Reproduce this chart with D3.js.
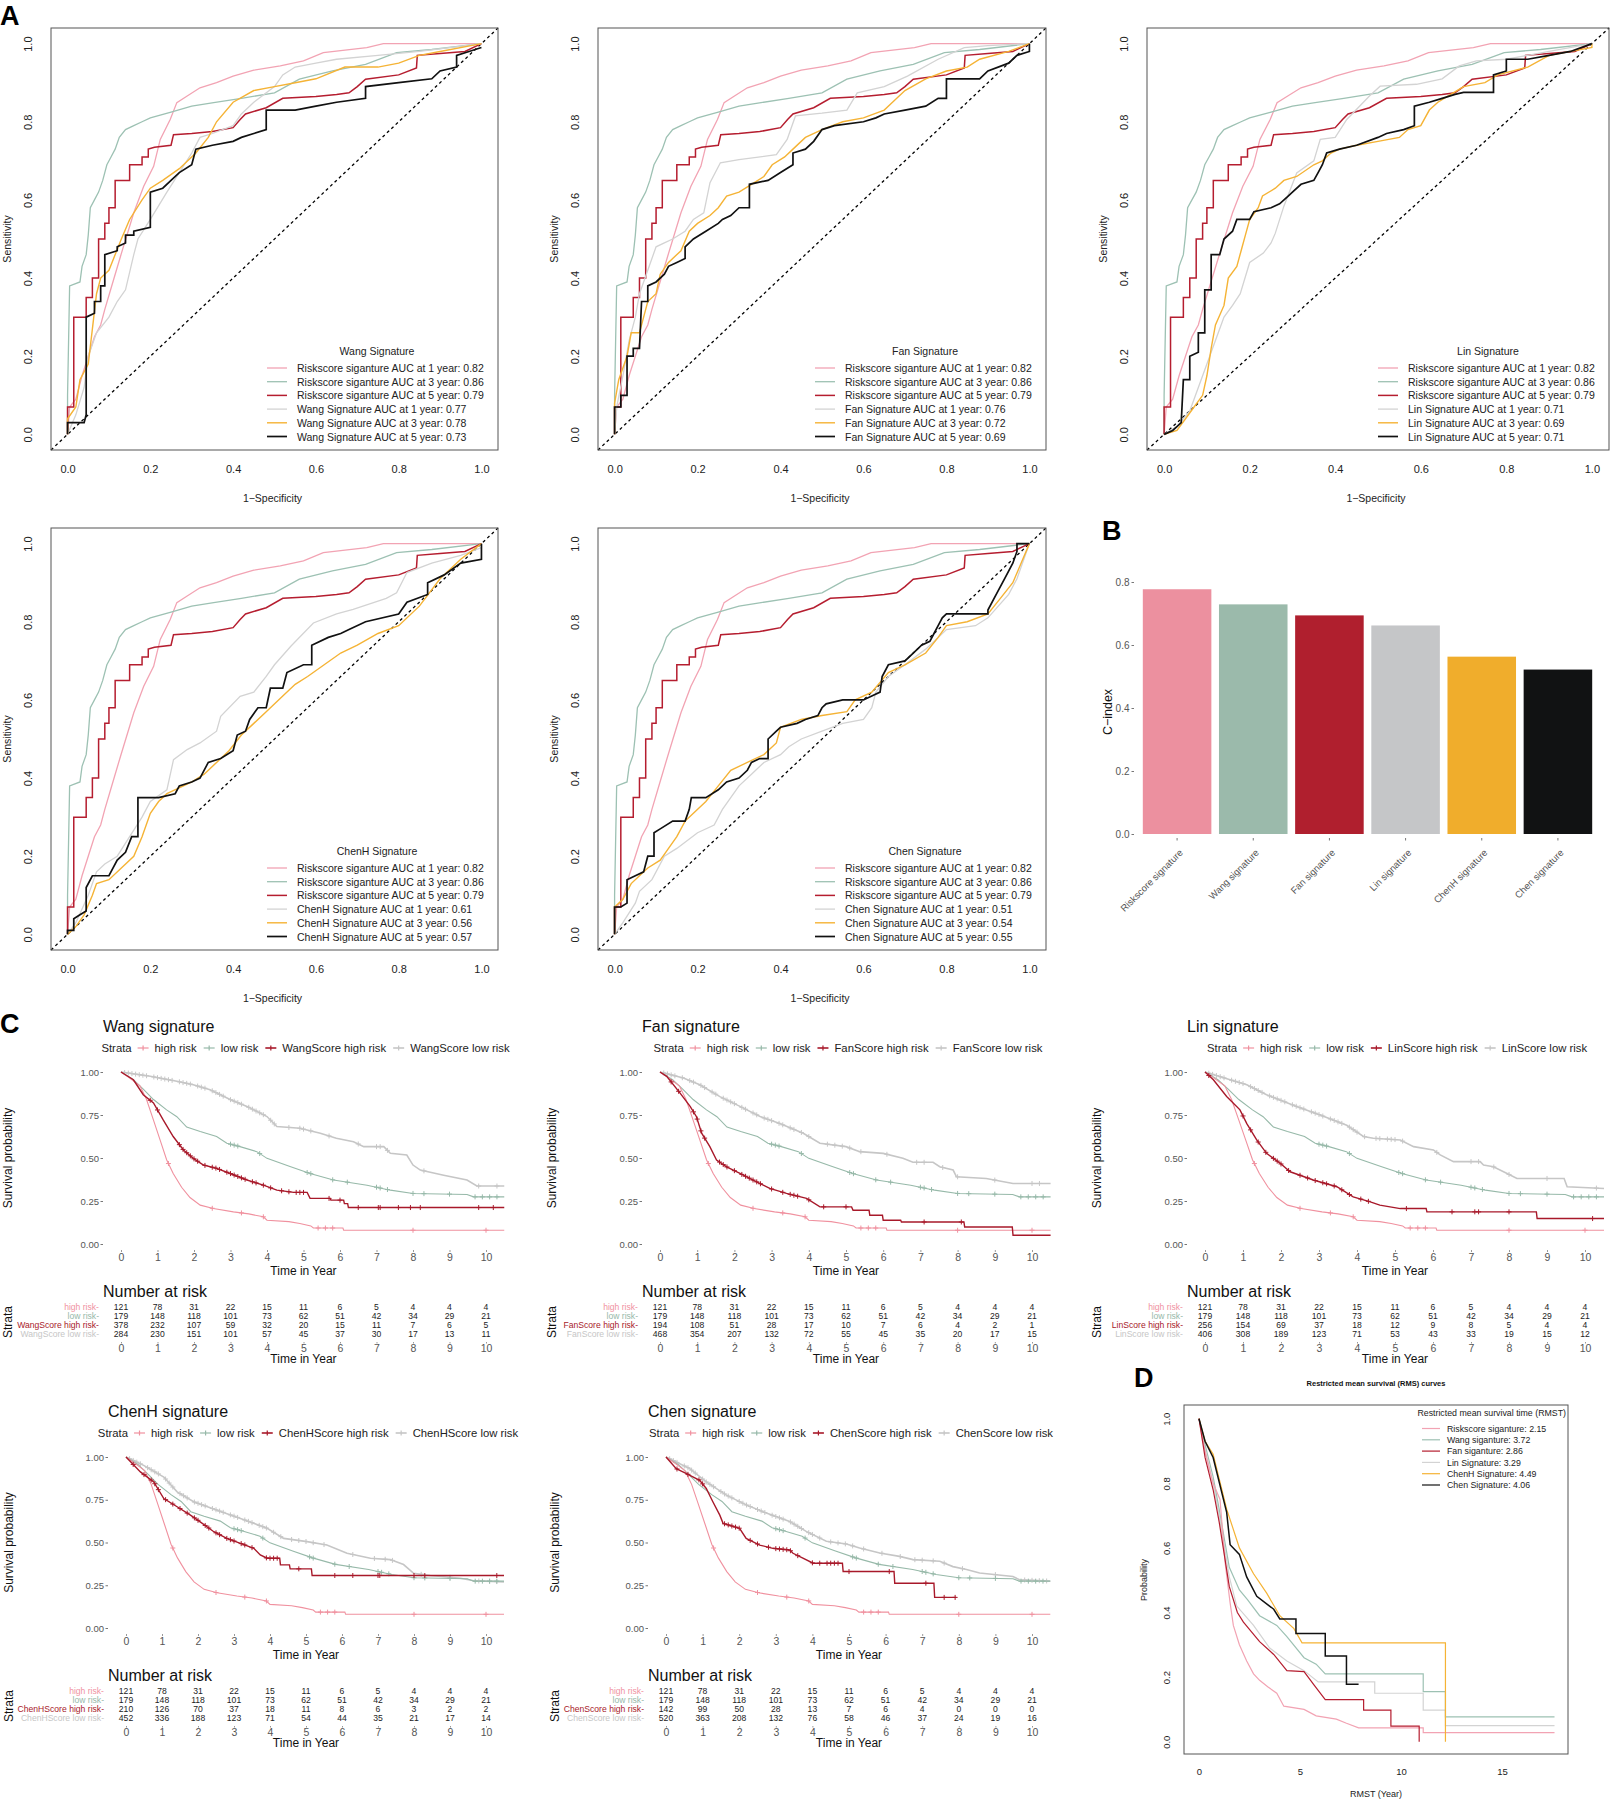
<!DOCTYPE html>
<html>
<head>
<meta charset="utf-8">
<script src="https://cdn.jsdelivr.net/npm/d3@7"></script>
<style>
  body { margin: 0; background: #fff; }
  svg { display: block; }
</style>
</head>
<body>
<script>
// ---------- A: ROC data (1-specificity, sensitivity) ----------
const rocTicks = [0, 0.2, 0.4, 0.6, 0.8, 1.0];
const rocYears = [1, 3, 5];
const riskAUC = [0.82, 0.86, 0.79];
const wangAUC = [0.77, 0.78, 0.73];
const fanAUC = [0.76, 0.72, 0.69];
const linAUC = [0.71, 0.69, 0.71];
const chenHAUC = [0.61, 0.56, 0.57];
const chenAUC = [0.51, 0.54, 0.55];

const riskRoc1 = [[0,0],[0.005,0.07],[0.02,0.09],[0.035,0.15],[0.05,0.2],[0.065,0.25],[0.08,0.28],[0.09,0.32],[0.104,0.37],[0.128,0.456],[0.16,0.567],[0.184,0.635],[0.208,0.686],[0.224,0.755],[0.248,0.806],[0.264,0.849],[0.289,0.866],[0.32,0.887],[0.36,0.9],[0.4,0.917],[0.45,0.932],[0.514,0.943],[0.57,0.956],[0.618,0.977],[0.723,0.99],[0.763,1],[1,1]];
const riskRoc3 = [[0,0],[0,0.1],[0.005,0.38],[0.03,0.39],[0.035,0.43],[0.045,0.46],[0.05,0.51],[0.055,0.58],[0.065,0.6],[0.075,0.62],[0.085,0.65],[0.095,0.69],[0.105,0.71],[0.115,0.73],[0.125,0.76],[0.14,0.78],[0.16,0.79],[0.18,0.8],[0.2,0.81],[0.25,0.825],[0.3,0.84],[0.353,0.849],[0.42,0.86],[0.5,0.874],[0.56,0.909],[0.64,0.93],[0.72,0.947],[0.795,0.977],[0.88,0.985],[1,1]];
const riskRoc5 = [[0,0],[0,0.07],[0.015,0.07],[0.015,0.3],[0.045,0.3],[0.045,0.35],[0.06,0.35],[0.06,0.4],[0.075,0.4],[0.075,0.5],[0.09,0.5],[0.09,0.54],[0.1,0.54],[0.1,0.58],[0.115,0.58],[0.115,0.65],[0.15,0.65],[0.15,0.69],[0.18,0.69],[0.18,0.71],[0.195,0.71],[0.195,0.73],[0.21,0.735],[0.25,0.74],[0.256,0.767],[0.3,0.77],[0.35,0.775],[0.4,0.785],[0.417,0.806],[0.43,0.82],[0.48,0.836],[0.52,0.86],[0.6,0.865],[0.65,0.87],[0.68,0.874],[0.7,0.89],[0.72,0.909],[0.8,0.92],[0.843,0.938],[0.845,0.97],[0.9,0.975],[0.96,0.98],[1,1]];

const wangRoc1 = [[0,0],[0.02,0.05],[0.04,0.12],[0.05,0.2],[0.07,0.26],[0.1,0.3],[0.12,0.34],[0.14,0.37],[0.16,0.46],[0.17,0.5],[0.2,0.55],[0.24,0.62],[0.27,0.67],[0.3,0.72],[0.32,0.76],[0.35,0.77],[0.4,0.79],[0.42,0.82],[0.45,0.85],[0.5,0.89],[0.52,0.92],[0.55,0.94],[0.6,0.95],[0.65,0.96],[0.75,0.97],[0.85,0.98],[1,1]];
const wangRoc3 = [[0,0],[0,0.04],[0.02,0.07],[0.03,0.14],[0.05,0.18],[0.06,0.27],[0.07,0.36],[0.08,0.4],[0.1,0.42],[0.13,0.5],[0.15,0.55],[0.18,0.6],[0.2,0.63],[0.23,0.65],[0.27,0.68],[0.31,0.72],[0.34,0.76],[0.36,0.8],[0.4,0.85],[0.45,0.88],[0.5,0.89],[0.55,0.9],[0.6,0.91],[0.67,0.94],[0.75,0.94],[0.8,0.95],[0.85,0.97],[0.9,0.98],[1,1]];
const wangRoc5 = [[0,0],[0,0.03],[0.04,0.03],[0.045,0.05],[0.045,0.3],[0.065,0.31],[0.065,0.34],[0.08,0.34],[0.08,0.38],[0.09,0.38],[0.09,0.46],[0.12,0.47],[0.12,0.48],[0.14,0.49],[0.14,0.51],[0.16,0.51],[0.16,0.52],[0.2,0.53],[0.2,0.62],[0.23,0.63],[0.25,0.65],[0.27,0.67],[0.3,0.69],[0.31,0.73],[0.35,0.74],[0.4,0.75],[0.42,0.76],[0.45,0.77],[0.48,0.78],[0.48,0.83],[0.55,0.83],[0.6,0.84],[0.65,0.85],[0.72,0.86],[0.72,0.89],[0.8,0.9],[0.88,0.91],[0.9,0.93],[0.94,0.94],[0.94,0.97],[0.97,0.98],[1,0.99]];

const fanRoc1 = [[0,0],[0.005,0.07],[0.02,0.15],[0.035,0.24],[0.05,0.3],[0.06,0.36],[0.07,0.39],[0.09,0.45],[0.1,0.48],[0.12,0.49],[0.14,0.5],[0.17,0.52],[0.19,0.55],[0.215,0.567],[0.23,0.644],[0.255,0.695],[0.3,0.703],[0.39,0.716],[0.416,0.755],[0.436,0.815],[0.5,0.822],[0.56,0.83],[0.585,0.874],[0.65,0.89],[0.706,0.917],[0.78,0.96],[0.843,0.99],[0.9,0.995],[1,1]];
const fanRoc3 = [[0,0],[0,0.08],[0.01,0.14],[0.03,0.2],[0.04,0.26],[0.06,0.26],[0.07,0.3],[0.08,0.34],[0.1,0.36],[0.11,0.41],[0.13,0.44],[0.16,0.47],[0.18,0.52],[0.2,0.54],[0.23,0.56],[0.25,0.58],[0.27,0.61],[0.3,0.62],[0.33,0.64],[0.36,0.66],[0.38,0.69],[0.41,0.71],[0.43,0.73],[0.46,0.76],[0.5,0.78],[0.55,0.8],[0.6,0.81],[0.65,0.83],[0.67,0.85],[0.7,0.88],[0.75,0.91],[0.8,0.93],[0.85,0.94],[0.88,0.96],[0.95,0.98],[1,1]];
const fanRoc5 = [[0,0],[0,0.07],[0.015,0.07],[0.015,0.1],[0.03,0.1],[0.03,0.2],[0.045,0.2],[0.045,0.22],[0.06,0.22],[0.065,0.34],[0.08,0.34],[0.08,0.38],[0.1,0.39],[0.12,0.41],[0.13,0.43],[0.15,0.44],[0.17,0.45],[0.17,0.48],[0.19,0.5],[0.22,0.52],[0.25,0.54],[0.26,0.55],[0.28,0.56],[0.3,0.58],[0.325,0.58],[0.325,0.64],[0.37,0.65],[0.4,0.67],[0.43,0.69],[0.43,0.72],[0.46,0.73],[0.48,0.75],[0.5,0.78],[0.53,0.79],[0.6,0.8],[0.63,0.81],[0.65,0.82],[0.7,0.83],[0.75,0.84],[0.78,0.86],[0.8,0.86],[0.8,0.91],[0.88,0.91],[0.9,0.93],[0.95,0.95],[0.97,0.97],[1,0.98],[1,1]];

const linRoc1 = [[0,0],[0.03,0.02],[0.06,0.06],[0.08,0.12],[0.1,0.18],[0.12,0.24],[0.14,0.3],[0.16,0.33],[0.178,0.36],[0.2,0.44],[0.232,0.464],[0.25,0.49],[0.26,0.515],[0.28,0.584],[0.31,0.669],[0.35,0.7],[0.365,0.755],[0.4,0.76],[0.427,0.806],[0.48,0.866],[0.505,0.891],[0.59,0.896],[0.65,0.91],[0.69,0.943],[0.73,0.956],[0.8,0.96],[0.85,0.97],[0.9,0.98],[1,1]];
const linRoc3 = [[0,0],[0.03,0.01],[0.05,0.04],[0.07,0.07],[0.09,0.1],[0.1,0.15],[0.11,0.22],[0.12,0.28],[0.14,0.33],[0.15,0.4],[0.17,0.43],[0.18,0.47],[0.19,0.51],[0.2,0.55],[0.22,0.58],[0.23,0.61],[0.26,0.63],[0.28,0.65],[0.31,0.66],[0.35,0.69],[0.37,0.7],[0.39,0.72],[0.41,0.73],[0.45,0.74],[0.5,0.75],[0.55,0.76],[0.57,0.78],[0.6,0.79],[0.62,0.83],[0.64,0.85],[0.67,0.87],[0.7,0.89],[0.75,0.9],[0.78,0.92],[0.85,0.94],[0.9,0.97],[1,0.99],[1,1]];
const linRoc5 = [[0,0],[0.02,0.01],[0.03,0.02],[0.04,0.03],[0.045,0.14],[0.06,0.14],[0.06,0.2],[0.08,0.21],[0.08,0.26],[0.095,0.26],[0.095,0.37],[0.11,0.37],[0.11,0.46],[0.13,0.46],[0.14,0.5],[0.16,0.52],[0.17,0.55],[0.2,0.55],[0.21,0.57],[0.25,0.58],[0.27,0.59],[0.29,0.61],[0.3,0.62],[0.32,0.64],[0.35,0.65],[0.36,0.67],[0.37,0.69],[0.38,0.72],[0.41,0.73],[0.45,0.74],[0.5,0.76],[0.52,0.77],[0.56,0.78],[0.585,0.79],[0.585,0.84],[0.62,0.85],[0.65,0.86],[0.68,0.87],[0.7,0.875],[0.77,0.875],[0.77,0.92],[0.8,0.93],[0.8,0.96],[0.85,0.96],[0.9,0.97],[0.95,0.98],[1,1]];

const chenHRoc1 = [[0,0],[0.02,0.03],[0.05,0.1],[0.07,0.16],[0.09,0.18],[0.12,0.2],[0.15,0.25],[0.18,0.3],[0.2,0.34],[0.24,0.37],[0.256,0.447],[0.289,0.473],[0.32,0.49],[0.36,0.52],[0.37,0.558],[0.417,0.609],[0.45,0.62],[0.48,0.66],[0.5,0.69],[0.54,0.738],[0.594,0.797],[0.65,0.82],[0.69,0.832],[0.77,0.86],[0.795,0.874],[0.82,0.926],[0.88,0.95],[0.95,0.97],[1,0.99]];
const chenHRoc3 = [[0,0],[0.02,0.02],[0.04,0.05],[0.06,0.1],[0.07,0.13],[0.1,0.14],[0.13,0.17],[0.16,0.2],[0.18,0.25],[0.2,0.31],[0.22,0.34],[0.24,0.36],[0.28,0.38],[0.3,0.39],[0.33,0.41],[0.36,0.44],[0.39,0.47],[0.42,0.51],[0.45,0.54],[0.48,0.57],[0.52,0.61],[0.55,0.64],[0.58,0.66],[0.62,0.69],[0.66,0.72],[0.7,0.74],[0.75,0.77],[0.8,0.79],[0.85,0.84],[0.9,0.91],[0.95,0.96],[1,1]];
const chenHRoc5 = [[0,0],[0,0.01],[0.015,0.01],[0.015,0.04],[0.03,0.05],[0.045,0.06],[0.045,0.12],[0.06,0.15],[0.1,0.15],[0.11,0.17],[0.12,0.19],[0.14,0.21],[0.155,0.25],[0.17,0.25],[0.17,0.35],[0.2,0.35],[0.22,0.35],[0.26,0.36],[0.27,0.38],[0.3,0.39],[0.32,0.4],[0.34,0.44],[0.37,0.45],[0.4,0.47],[0.41,0.51],[0.43,0.52],[0.44,0.55],[0.46,0.58],[0.48,0.58],[0.49,0.63],[0.52,0.63],[0.53,0.67],[0.57,0.69],[0.59,0.69],[0.59,0.74],[0.63,0.76],[0.66,0.77],[0.68,0.78],[0.72,0.8],[0.8,0.82],[0.82,0.85],[0.87,0.87],[0.87,0.9],[0.91,0.92],[0.95,0.95],[1,0.96],[1,1]];

const chenRoc1 = [[0,0],[0.02,0.03],[0.05,0.08],[0.06,0.11],[0.09,0.14],[0.12,0.2],[0.15,0.22],[0.2,0.26],[0.24,0.28],[0.26,0.32],[0.28,0.35],[0.3,0.38],[0.33,0.41],[0.36,0.44],[0.4,0.46],[0.42,0.48],[0.45,0.5],[0.5,0.52],[0.55,0.54],[0.6,0.55],[0.62,0.58],[0.63,0.62],[0.66,0.66],[0.7,0.69],[0.75,0.73],[0.78,0.76],[0.8,0.78],[0.87,0.79],[0.9,0.81],[0.95,0.87],[0.97,0.91],[1,1]];
const chenRoc3 = [[0,0],[0,0.07],[0.02,0.09],[0.04,0.13],[0.06,0.15],[0.08,0.17],[0.11,0.19],[0.13,0.22],[0.15,0.25],[0.17,0.29],[0.19,0.31],[0.22,0.34],[0.25,0.38],[0.28,0.42],[0.32,0.44],[0.36,0.46],[0.39,0.49],[0.4,0.53],[0.45,0.55],[0.5,0.56],[0.56,0.57],[0.58,0.6],[0.62,0.62],[0.66,0.67],[0.7,0.69],[0.75,0.72],[0.78,0.76],[0.8,0.79],[0.85,0.8],[0.9,0.82],[0.93,0.86],[0.96,0.9],[1,1]];
const chenRoc5 = [[0,0],[0,0.07],[0.015,0.07],[0.03,0.08],[0.03,0.14],[0.05,0.15],[0.07,0.16],[0.08,0.2],[0.095,0.2],[0.095,0.26],[0.11,0.27],[0.14,0.29],[0.17,0.29],[0.18,0.32],[0.185,0.35],[0.22,0.35],[0.25,0.37],[0.27,0.39],[0.3,0.4],[0.32,0.42],[0.33,0.44],[0.35,0.45],[0.37,0.45],[0.37,0.5],[0.39,0.52],[0.4,0.53],[0.44,0.54],[0.46,0.55],[0.49,0.56],[0.5,0.58],[0.51,0.59],[0.55,0.6],[0.6,0.6],[0.62,0.61],[0.64,0.62],[0.645,0.66],[0.66,0.69],[0.7,0.7],[0.72,0.72],[0.74,0.74],[0.76,0.75],[0.77,0.77],[0.78,0.79],[0.79,0.81],[0.8,0.82],[0.9,0.82],[0.9,0.83],[0.92,0.87],[0.94,0.91],[0.96,0.95],[0.97,0.98],[0.97,1],[1,1]];

// ---------- B: C-index ----------
const cindexLabels = ["Riskscore signature", "Wang signature", "Fan signature", "Lin signature", "ChenH signature", "Chen signature"];
const cindexValues = [0.777, 0.729, 0.694, 0.662, 0.563, 0.522];

// ---------- C: Kaplan-Meier (year, survival) ----------
const kmTimes = [0, 1, 2, 3, 4, 5, 6, 7, 8, 9, 10];
const kmHighRisk = [[0,1],[0.2,0.97],[0.52,0.92],[0.7,0.84],[0.89,0.72],[1.07,0.605],[1.25,0.49],[1.43,0.41],[1.66,0.33],[1.89,0.27],[2.17,0.226],[2.53,0.206],[3.08,0.187],[3.5,0.175],[3.9,0.158],[4.0,0.138],[4.6,0.13],[4.9,0.119],[5.2,0.105],[5.27,0.093],[6.08,0.093],[6.1,0.08],[10.5,0.08]];
const kmHighRiskCens = [1.3,2.5,3.3,3.9,5.4,5.6,5.8,8.0,10.0];
const kmLowRisk = [[0,1],[0.34,0.955],[0.61,0.9],[0.89,0.84],[1.25,0.78],[1.53,0.74],[1.8,0.68],[2.17,0.654],[2.62,0.625],[2.9,0.586],[3.26,0.566],[3.72,0.537],[4.0,0.498],[4.63,0.45],[5.18,0.41],[5.82,0.372],[6.74,0.342],[7.38,0.313],[8.0,0.294],[9.48,0.288],[9.66,0.274],[10.5,0.274]];
const kmLowRiskCens = [3.0,3.1,3.2,3.8,5.1,5.2,5.8,6.2,7.0,7.1,7.3,8.0,8.3,9.0,9.7,9.9,10.1,10.3];

const wangHigh = [[0,1],[0.34,0.955],[0.61,0.868],[0.89,0.82],[1.16,0.72],[1.43,0.625],[1.71,0.547],[1.98,0.498],[2.26,0.459],[2.62,0.44],[2.99,0.41],[3.45,0.372],[3.9,0.342],[4.27,0.313],[4.73,0.3],[5.1,0.3],[5.18,0.265],[5.73,0.265],[5.75,0.255],[6.1,0.255],[6.12,0.235],[6.21,0.235],[6.23,0.212],[10.5,0.212]];
const wangHighCens = [0.8,1.0,1.6,1.7,1.8,1.9,2.0,2.1,2.3,2.5,2.6,2.7,2.9,3.0,3.1,3.2,3.3,3.4,3.6,3.7,3.9,4.1,4.4,4.6,4.8,4.9,5.0,5.7,6.0,6.5,7.05,7.1,7.6,7.93,8.2,9.8,10.2];
const wangLow = [[0,1],[0.8,0.975],[1.53,0.946],[1.98,0.926],[2.44,0.897],[2.99,0.84],[3.45,0.8],[4.0,0.741],[4.27,0.683],[4.9,0.673],[5.46,0.644],[5.9,0.615],[6.37,0.595],[6.65,0.566],[7.2,0.566],[7.38,0.527],[7.83,0.517],[8.0,0.459],[8.2,0.43],[8.84,0.4],[9.48,0.372],[9.75,0.337],[10.5,0.337]];
const wangLowCens = [0.1,0.2,0.3,0.4,0.5,0.6,0.7,0.9,1.0,1.1,1.2,1.3,1.4,1.6,1.7,1.8,1.9,2.1,2.2,2.3,2.5,2.6,2.7,2.8,3.0,3.1,3.2,3.3,3.5,3.6,3.7,3.8,3.9,4.1,4.2,4.6,4.9,5.0,5.2,5.7,6.5,7.0,7.1,7.3,8.3,9.8,10.3];

const fanHigh = [[0,1],[0.18,0.975],[0.54,0.877],[0.81,0.8],[0.98,0.74],[1.12,0.644],[1.34,0.566],[1.52,0.488],[1.79,0.449],[2.15,0.41],[2.5,0.372],[2.95,0.323],[3.4,0.294],[3.94,0.265],[4.3,0.216],[5.15,0.216],[5.19,0.196],[5.62,0.196],[5.64,0.167],[5.98,0.167],[6.0,0.138],[6.47,0.138],[6.49,0.128],[8.17,0.128],[8.19,0.099],[9.47,0.099],[9.49,0.051],[10.5,0.051]];
const fanHighCens = [0.3,0.5,0.9,1.0,1.1,1.2,1.6,1.7,1.8,2.0,2.2,2.3,2.4,2.5,2.6,2.7,3.0,3.3,3.5,3.6,3.7,4.0,4.4,5.0,7.1,8.1];
const fanLow = [[0,1],[0.63,0.965],[1.07,0.926],[1.61,0.857],[2.15,0.8],[2.69,0.741],[3.22,0.7],[3.85,0.644],[4.3,0.586],[5.0,0.566],[5.37,0.537],[6.0,0.527],[6.53,0.498],[6.8,0.475],[7.34,0.475],[7.52,0.449],[7.88,0.43],[7.97,0.391],[8.77,0.381],[9.49,0.352],[10.5,0.352]];
const fanLowCens = [0.1,0.2,0.3,0.4,0.6,0.8,0.9,1.1,1.2,1.4,1.5,1.7,1.8,1.9,2.0,2.2,2.3,2.5,2.6,2.8,2.9,3.0,3.2,3.3,3.5,3.6,3.8,4.0,4.5,4.7,4.9,5.1,5.4,6.1,6.9,7.1,7.6,8.0,9.0,10.0,10.2];

const linHigh = [[0,1],[0.22,0.955],[0.57,0.858],[0.92,0.78],[1.1,0.7],[1.36,0.605],[1.62,0.527],[1.98,0.469],[2.24,0.42],[2.85,0.372],[3.47,0.333],[3.9,0.274],[4.35,0.245],[4.6,0.226],[5.14,0.206],[5.82,0.206],[5.84,0.187],[8.72,0.187],[8.74,0.148],[10.5,0.148]];
const linHighCens = [0.1,1.0,1.2,1.4,1.6,1.8,1.9,2.0,2.2,2.5,2.7,2.9,3.1,3.2,3.4,3.6,3.8,4.1,4.3,5.3,6.5,7.1,7.2,8.0,10.2];
const linLow = [[0,1],[0.66,0.955],[1.1,0.926],[1.62,0.868],[2.41,0.8],[3.03,0.75],[3.73,0.69],[4.17,0.625],[4.43,0.615],[5.14,0.605],[5.49,0.566],[6.01,0.547],[6.19,0.518],[6.54,0.479],[7.24,0.479],[7.33,0.459],[7.59,0.449],[7.95,0.41],[8.21,0.381],[9.45,0.381],[9.53,0.333],[10.5,0.323]];
const linLowCens = [0.1,0.2,0.3,0.4,0.5,0.7,0.8,0.9,1.0,1.2,1.3,1.4,1.5,1.7,1.8,1.9,2.0,2.1,2.3,2.4,2.5,2.6,2.8,2.9,3.0,3.1,3.3,3.4,3.5,3.6,3.8,3.9,4.0,4.2,4.5,4.6,4.8,4.9,5.0,5.2,6.1,7.0,7.2,7.6,8.0,9.0,10.3];

const chenHHigh = [[0,1],[0.4,0.913],[0.77,0.854],[1.05,0.757],[1.42,0.709],[1.79,0.66],[2.06,0.621],[2.44,0.563],[2.8,0.524],[3.18,0.495],[3.55,0.466],[3.73,0.427],[3.92,0.408],[4.27,0.408],[4.29,0.369],[4.54,0.369],[4.56,0.346],[5.15,0.346],[5.17,0.307],[10.5,0.307]];
const chenHHighCens = [0.2,0.5,0.7,0.8,0.9,1.1,1.3,1.5,1.7,1.9,2.0,2.2,2.3,2.5,2.6,2.8,2.9,3.0,3.2,3.3,3.5,3.9,4.0,4.1,4.2,4.8,5.8,6.3,7.0,7.05,8.0,8.3,10.3];
const chenHLow = [[0,1],[0.49,0.951],[1.05,0.883],[1.42,0.796],[1.88,0.738],[2.53,0.689],[3.18,0.641],[3.92,0.583],[4.38,0.524],[5.03,0.505],[5.58,0.485],[6.14,0.437],[6.79,0.408],[7.34,0.4],[7.71,0.371],[7.99,0.32],[8.45,0.307],[9.29,0.291],[9.66,0.276],[10.5,0.27]];
const chenHLowCens = [0.1,0.2,0.3,0.4,0.6,0.7,0.8,0.9,1.1,1.2,1.3,1.5,1.6,1.7,1.9,2.0,2.1,2.2,2.4,2.5,2.6,2.7,2.9,3.0,3.1,3.3,3.4,3.5,3.7,3.8,3.9,4.1,4.3,4.6,4.8,5.0,5.2,5.5,6.3,6.9,7.2,7.4,8.2,9.0,9.8,10.1,10.3];

const chenHigh = [[0,1],[0.28,0.932],[0.56,0.903],[0.92,0.864],[1.1,0.816],[1.28,0.738],[1.47,0.66],[1.56,0.612],[2.01,0.583],[2.19,0.524],[2.56,0.485],[2.92,0.466],[3.38,0.456],[3.47,0.437],[3.74,0.408],[4.02,0.379],[4.82,0.379],[4.84,0.33],[6.23,0.33],[6.25,0.262],[7.32,0.262],[7.34,0.179],[7.93,0.179]];
const chenHighCens = [0.3,0.6,0.9,1.0,1.6,1.7,1.8,1.9,2.0,2.3,2.5,2.8,3.0,3.1,3.2,3.3,3.4,3.6,4.0,4.2,4.4,4.5,4.6,4.7,5.0,6.1,7.1,7.6,7.9];
const chenLow = [[0,1],[0.65,0.932],[1.1,0.854],[1.65,0.777],[2.19,0.72],[2.74,0.672],[3.38,0.623],[3.83,0.565],[4.38,0.507],[4.93,0.491],[5.29,0.468],[5.84,0.439],[6.38,0.419],[6.75,0.4],[7.48,0.39],[7.84,0.359],[8.21,0.342],[8.57,0.322],[9.48,0.301],[9.66,0.282],[10.5,0.274]];
const chenLowCens = [0.1,0.2,0.3,0.5,0.6,0.7,0.8,1.0,1.1,1.2,1.3,1.5,1.6,1.7,1.8,2.0,2.1,2.2,2.3,2.5,2.6,2.7,2.9,3.0,3.1,3.2,3.4,3.5,3.6,3.7,3.9,4.0,4.2,4.5,4.7,4.9,5.1,5.4,5.9,6.4,6.8,7.0,7.3,7.6,8.1,9.0,9.8,10.0,10.2,10.4];

// numbers at risk
const riskHighN = [121,78,31,22,15,11,6,5,4,4,4];
const riskLowN = [179,148,118,101,73,62,51,42,34,29,21];
const wangHighN = [378,232,107,59,32,20,15,11,7,6,5];
const wangLowN = [284,230,151,101,57,45,37,30,17,13,11];
const fanHighN = [194,108,51,28,17,10,7,6,4,2,1];
const fanLowN = [468,354,207,132,72,55,45,35,20,17,15];
const linHighN = [256,154,69,37,18,12,9,8,5,4,4];
const linLowN = [406,308,189,123,71,53,43,33,19,15,12];
const chenHHighN = [210,126,70,37,18,11,8,6,3,2,2];
const chenHLowN = [452,336,188,123,71,54,44,35,21,17,14];
const chenHighN = [142,99,50,28,13,7,6,4,0,0,0];
const chenLowN = [520,363,208,132,76,58,46,37,24,19,16];

// ---------- D: RMST curves ----------
const rmstLabels = ["Riskscore siganture", "Wang siganture", "Fan siganture", "Lin Signature", "ChenH Signature", "Chen Signature"];
const rmstValues = [2.15, 3.72, 2.86, 3.29, 4.49, 4.06];
const rmstRisk = [[0,1],[0.3,0.9],[0.7,0.8],[1.04,0.75],[1.3,0.55],[1.54,0.43],[1.7,0.36],[2.0,0.3],[2.36,0.25],[2.7,0.21],[3.0,0.19],[3.4,0.17],[3.85,0.15],[4.2,0.11],[5.2,0.1],[5.8,0.08],[6.8,0.07],[7.3,0.057],[7.9,0.043],[11.1,0.043],[11.1,0.028],[17.6,0.028]];
const rmstWang = [[0,1],[0.3,0.92],[0.7,0.82],[1.0,0.72],[1.5,0.54],[2.0,0.47],[2.4,0.44],[3.0,0.39],[3.85,0.36],[4.35,0.325],[5.2,0.26],[5.8,0.24],[6.25,0.21],[11.1,0.21],[11.1,0.155],[12.2,0.155],[12.2,0.077],[17.6,0.077]];
const rmstFan = [[0,1],[0.3,0.88],[0.7,0.78],[1.0,0.68],[1.5,0.48],[1.9,0.4],[2.2,0.37],[3.0,0.31],[3.7,0.27],[4.35,0.22],[5.2,0.217],[5.7,0.175],[6.25,0.13],[8.15,0.13],[8.15,0.098],[9.5,0.098],[9.5,0.048],[10.9,0.048],[10.9,0]];
const rmstLin = [[0,1],[0.3,0.9],[0.7,0.8],[1.0,0.7],[1.5,0.51],[1.87,0.42],[2.7,0.36],[3.5,0.29],[4.35,0.25],[5.2,0.22],[5.9,0.185],[8.7,0.185],[8.7,0.15],[11.1,0.15],[11.1,0.098],[12.2,0.098],[12.2,0.05],[17.6,0.05]];
const rmstChenH = [[0,1],[0.3,0.93],[0.7,0.89],[1.37,0.72],[2.0,0.6],[2.7,0.52],[3.35,0.46],[4.0,0.39],[4.7,0.35],[5.1,0.306],[12.2,0.306],[12.2,0]];
const rmstChen = [[0,1],[0.3,0.93],[0.7,0.88],[1.37,0.71],[1.54,0.61],[2.0,0.58],[2.36,0.51],[2.86,0.45],[3.7,0.41],[4.0,0.38],[4.8,0.38],[4.8,0.335],[6.25,0.335],[6.25,0.265],[7.3,0.265],[7.3,0.178],[7.9,0.178]];

// ---------- styling ----------
const FONT = "'Liberation Sans', Arial, Helvetica, sans-serif";
const rocColors = ["#F2A3B3", "#9DC1B3", "#B51D2F", "#D3D3D3", "#F5B335", "#111111"];
const rocWidths = [1.3, 1.3, 1.5, 1.3, 1.4, 1.7];
const kmColors = ["#F0919F", "#97B9A9", "#A8192A", "#C6C6C6"];
const barColors = ["#EC909F", "#9BBAAB", "#B01F2E", "#C5C6C8", "#F0AD2C", "#111213"];

const svg = d3.select("body").append("svg")
  .attr("width", 1614).attr("height", 1799)
  .style("font-family", FONT);
svg.append("rect").attr("width", 1614).attr("height", 1799).attr("fill", "#fff");

function panelLetter(t, x, y) {
  svg.append("text").attr("x", x).attr("y", y).attr("font-size", 27)
    .attr("font-weight", "bold").attr("fill", "#000").text(t);
}

// ---------- A ----------
function rocPanel(p) {
  const g = svg.append("g");
  const x = d3.scaleLinear().domain([-0.04, 1.04]).range([p.L, p.R]);
  const y = d3.scaleLinear().domain([-0.04, 1.04]).range([p.B, p.T]);
  const line = d3.line().x(d => x(d[0])).y(d => y(d[1]));

  g.append("line")
    .attr("x1", x(-0.04)).attr("y1", y(-0.04)).attr("x2", x(1.04)).attr("y2", y(1.04))
    .attr("stroke", "#000").attr("stroke-width", 1.3).attr("stroke-dasharray", "3,3");

  const curves = [riskRoc1, riskRoc3, riskRoc5].concat(p.curves);
  g.selectAll("path.roc").data(curves).join("path")
    .attr("class", "roc").attr("fill", "none")
    .attr("stroke", (d, i) => rocColors[i])
    .attr("stroke-width", (d, i) => rocWidths[i])
    .attr("d", line);

  g.append("rect").attr("x", p.L).attr("y", p.T)
    .attr("width", p.R - p.L).attr("height", p.B - p.T)
    .attr("fill", "none").attr("stroke", "#555").attr("stroke-width", 1);

  const ax = g.append("g").attr("transform", `translate(0,${p.B})`)
    .call(d3.axisBottom(x).tickValues(rocTicks).tickFormat(d3.format(".1f")).tickSize(0).tickPadding(15));
  ax.select(".domain").remove();
  ax.attr("font-family", FONT).attr("font-size", 11).selectAll("text").attr("fill", "#222");

  const ay = g.append("g").attr("transform", `translate(${p.L},0)`)
    .call(d3.axisLeft(y).tickValues(rocTicks).tickFormat(d3.format(".1f")).tickSize(0));
  ay.select(".domain").remove();
  ay.attr("font-family", FONT).attr("font-size", 11).selectAll("text")
    .attr("fill", "#222").attr("x", 0).attr("dy", 0)
    .attr("text-anchor", "middle")
    .attr("transform", "translate(-19,0) rotate(-90)");

  g.append("text").attr("x", (p.L + p.R) / 2 - 2).attr("y", p.B + 52)
    .attr("text-anchor", "middle").attr("font-size", 10.5).attr("fill", "#222").text("1\u2212Specificity");
  g.append("text").attr("transform", `translate(${p.L - 40},${(p.T + p.B) / 2}) rotate(-90)`)
    .attr("text-anchor", "middle").attr("font-size", 10.5).attr("fill", "#222").text("Sensitivity");

  // legend
  const lg = g.append("g").attr("font-size", 10.5).attr("fill", "#222");
  lg.append("text").attr("x", p.R - 121).attr("y", p.B - 95)
    .attr("text-anchor", "middle").text(p.name + " Signature");
  const labels = rocYears.map((yr, i) => `Riskscore siganture AUC at ${yr} year: ${riskAUC[i].toFixed(2)}`)
    .concat(rocYears.map((yr, i) => `${p.name} Signature AUC at ${yr} year: ${p.auc[i].toFixed(2)}`));
  labels.forEach((t, i) => {
    const yy = p.B - 82 + i * 13.7;
    lg.append("line").attr("x1", p.R - 231).attr("x2", p.R - 211).attr("y1", yy).attr("y2", yy)
      .attr("stroke", rocColors[i]).attr("stroke-width", rocWidths[i]);
    lg.append("text").attr("x", p.R - 201).attr("y", yy + 4).text(t);
  });
}

panelLetter("A", 0, 25);
rocPanel({ L: 51, R: 498, T: 28, B: 450, name: "Wang", auc: wangAUC, curves: [wangRoc1, wangRoc3, wangRoc5] });
rocPanel({ L: 598, R: 1046, T: 28, B: 450, name: "Fan", auc: fanAUC, curves: [fanRoc1, fanRoc3, fanRoc5] });
rocPanel({ L: 1147, R: 1609, T: 28, B: 450, name: "Lin", auc: linAUC, curves: [linRoc1, linRoc3, linRoc5] });
rocPanel({ L: 51, R: 498, T: 528, B: 950, name: "ChenH", auc: chenHAUC, curves: [chenHRoc1, chenHRoc3, chenHRoc5] });
rocPanel({ L: 598, R: 1046, T: 528, B: 950, name: "Chen", auc: chenAUC, curves: [chenRoc1, chenRoc3, chenRoc5] });

// ---------- B ----------
(function () {
  panelLetter("B", 1102, 540);
  const g = svg.append("g");
  const xb = d3.scaleBand().domain(cindexLabels).range([1139, 1596]).paddingInner(0.1).paddingOuter(0.05);
  const yb = d3.scaleLinear().domain([0, 0.8]).range([834, 582]);
  g.selectAll("rect.bar").data(cindexValues).join("rect")
    .attr("class", "bar")
    .attr("x", (d, i) => xb(cindexLabels[i])).attr("width", xb.bandwidth())
    .attr("y", d => yb(d)).attr("height", d => yb(0) - yb(d))
    .attr("fill", (d, i) => barColors[i]);

  const ay = g.append("g").attr("transform", "translate(1134,0)")
    .call(d3.axisLeft(yb).tickValues([0, 0.2, 0.4, 0.6, 0.8]).tickFormat(d3.format(".1f")).tickSize(2.5).tickPadding(2));
  ay.select(".domain").remove();
  ay.attr("font-family", FONT).attr("font-size", 10).selectAll("text").attr("fill", "#555");
  ay.selectAll("line").attr("stroke", "#777");

  const ax = g.append("g").attr("transform", "translate(0,838)")
    .call(d3.axisBottom(xb).tickSize(2.5));
  ax.select(".domain").remove();
  ax.selectAll("line").attr("stroke", "#777");
  ax.attr("font-family", FONT).attr("font-size", 9.5).selectAll("text")
    .attr("fill", "#555").attr("x", 0).attr("y", 0).attr("dy", "0.35em")
    .attr("text-anchor", "end").attr("transform", "translate(4,13) rotate(-45)");

  g.append("text").attr("transform", "translate(1112,712) rotate(-90)")
    .attr("text-anchor", "middle").attr("font-size", 12.5).attr("fill", "#111").text("C\u2212index");
})();

// ---------- C ----------
function valAt(pts, t) {
  for (let i = 1; i < pts.length; i++) {
    if (t <= pts[i][0]) {
      const a = pts[i - 1], b = pts[i];
      const f = b[0] > a[0] ? (t - a[0]) / (b[0] - a[0]) : 1;
      return a[1] + f * (b[1] - a[1]);
    }
  }
  return pts[pts.length - 1][1];
}

function kmPanel(p) {
  const g = svg.append("g");
  const x = d3.scaleLinear().domain([0, 10]).range([p.x0, p.x10]);
  const y = d3.scaleLinear().domain([0, 1]).range([p.yb, p.yt]);
  const line = d3.line().x(d => x(d[0])).y(d => y(d[1]));
  const score = p.name + "Score";
  const names = ["high risk", "low risk", score + " high risk", score + " low risk"];
  const series = [
    { pts: kmHighRisk, cens: kmHighRiskCens, w: 1.1 },
    { pts: kmLowRisk, cens: kmLowRiskCens, w: 1.1 },
    { pts: p.high, cens: p.highCens, w: 1.4 },
    { pts: p.low, cens: p.lowCens, w: 1.6 }
  ];
  const drawOrder = [3, 1, 0, 2];
  drawOrder.forEach(i => {
    const s = series[i];
    g.append("path").attr("d", line(s.pts)).attr("fill", "none")
      .attr("stroke", kmColors[i]).attr("stroke-width", s.w);
    g.selectAll(null).data(s.cens).join("path")
      .attr("transform", t => `translate(${x(t)},${y(valAt(s.pts, t))})`)
      .attr("d", "M-2.5,0H2.5M0,-2.5V2.5")
      .attr("stroke", kmColors[i]).attr("stroke-width", 1);
  });

  // axes
  const ay = g.append("g").attr("transform", `translate(${p.x0 - 18},0)`)
    .call(d3.axisLeft(y).tickValues([0, 0.25, 0.5, 0.75, 1]).tickFormat(d3.format(".2f")).tickSize(2.5).tickPadding(1.5));
  ay.select(".domain").remove();
  ay.attr("font-family", FONT).attr("font-size", 9.5).selectAll("text").attr("fill", "#555");
  ay.selectAll("line").attr("stroke", "#777");

  const ax = g.append("g").attr("transform", `translate(0,${p.yb + 6})`)
    .call(d3.axisBottom(x).tickValues(kmTimes).tickSize(2).tickPadding(2));
  ax.select(".domain").remove();
  ax.attr("font-family", FONT).attr("font-size", 10.5).selectAll("text").attr("fill", "#555");
  ax.selectAll("line").attr("stroke", "#999");

  g.append("text").attr("x", x(5)).attr("y", p.yb + 31).attr("text-anchor", "middle")
    .attr("font-size", 12).attr("fill", "#111").text("Time in Year");

  // title
  g.append("text").attr("x", p.x0 - 18).attr("y", p.yt - 40)
    .attr("font-size", 16).attr("fill", "#111").text(p.name + " signature");

  // legend
  const lg = g.append("g").attr("font-size", 11.3).attr("fill", "#222");
  let cx = 0;
  const st = lg.append("text").attr("x", 0).attr("y", 0).text("Strata");
  cx += st.node().getComputedTextLength() + 6;
  names.forEach((n, i) => {
    lg.append("line").attr("x1", cx).attr("x2", cx + 11).attr("y1", -4).attr("y2", -4)
      .attr("stroke", kmColors[i]).attr("stroke-width", i > 1 ? 1.6 : 1.2);
    lg.append("path").attr("d", `M${cx + 5.5},-6.5V-1.5`).attr("stroke", kmColors[i]).attr("stroke-width", 1.2);
    cx += 17;
    const t = lg.append("text").attr("x", cx).attr("y", 0).text(n);
    cx += t.node().getComputedTextLength() + 7;
  });
  cx -= 7;
  lg.attr("transform", `translate(${x(5) - cx / 2 + 2},${p.yt - 20})`);

  // number at risk table
  const base = p.yb;
  g.append("text").attr("x", p.x0 - 18).attr("y", base + 53)
    .attr("font-size", 16).attr("fill", "#111").text("Number at risk");
  const rows = [riskHighN, riskLowN, p.highN, p.lowN];
  const tg = g.append("g").attr("font-size", 8.6);
  let maxW = 0;
  rows.forEach((r, ri) => {
    const yy = base + 66 + ri * 9;
    const lab = tg.append("text").attr("x", p.x0 - 22).attr("y", yy).attr("text-anchor", "end")
      .attr("fill", kmColors[ri]).text(names[ri] + "-");
    maxW = Math.max(maxW, lab.node().getComputedTextLength());
    tg.selectAll(null).data(r).join("text")
      .attr("x", (d, i) => x(kmTimes[i])).attr("y", yy)
      .attr("text-anchor", "middle").attr("fill", "#222").text(d => d);
  });
  const tx = g.append("g").attr("transform", `translate(0,${base + 98})`)
    .call(d3.axisBottom(x).tickValues(kmTimes).tickSize(1.5).tickPadding(1.5));
  tx.select(".domain").remove();
  tx.attr("font-family", FONT).attr("font-size", 10.5).selectAll("text").attr("fill", "#555");
  tx.selectAll("line").attr("stroke", "#999");
  g.append("text").attr("x", x(5)).attr("y", base + 119).attr("text-anchor", "middle")
    .attr("font-size", 12).attr("fill", "#111").text("Time in Year");

  // side labels sit just left of the widest strata label
  const sideX = Math.max(9, Math.min(p.x0 - 104, p.x0 - 22 - maxW - 5));
  g.append("text").attr("transform", `translate(${sideX},${base + 78}) rotate(-90)`)
    .attr("text-anchor", "middle").attr("font-size", 12).attr("fill", "#111").text("Strata");
  g.append("text").attr("transform", `translate(${sideX},${(p.yt + p.yb) / 2}) rotate(-90)`)
    .attr("text-anchor", "middle").attr("font-size", 12).attr("fill", "#111").text("Survival probability");
}

panelLetter("C", 0, 1033);
kmPanel({ name: "Wang", x0: 121, x10: 486, yt: 1072, yb: 1244, high: wangHigh, highCens: wangHighCens, low: wangLow, lowCens: wangLowCens, highN: wangHighN, lowN: wangLowN });
kmPanel({ name: "Fan", x0: 660, x10: 1032, yt: 1072, yb: 1244, high: fanHigh, highCens: fanHighCens, low: fanLow, lowCens: fanLowCens, highN: fanHighN, lowN: fanLowN });
kmPanel({ name: "Lin", x0: 1205, x10: 1585, yt: 1072, yb: 1244, high: linHigh, highCens: linHighCens, low: linLow, lowCens: linLowCens, highN: linHighN, lowN: linLowN });
kmPanel({ name: "ChenH", x0: 126, x10: 486, yt: 1457, yb: 1628, high: chenHHigh, highCens: chenHHighCens, low: chenHLow, lowCens: chenHLowCens, highN: chenHHighN, lowN: chenHLowN });
kmPanel({ name: "Chen", x0: 666, x10: 1032, yt: 1457, yb: 1628, high: chenHigh, highCens: chenHighCens, low: chenLow, lowCens: chenLowCens, highN: chenHighN, lowN: chenLowN });

// ---------- D ----------
(function () {
  panelLetter("D", 1134, 1387);
  const g = svg.append("g");
  const L = 1184, R = 1568, T = 1405, B = 1754;
  const x = d3.scaleLinear().domain([0, 15]).range([1199, 1502]);
  const y = d3.scaleLinear().domain([0, 1]).range([1741.7, 1418.7]);
  const line = d3.line().x(d => x(d[0])).y(d => y(d[1]));
  const curves = [rmstRisk, rmstWang, rmstFan, rmstLin, rmstChenH, rmstChen];
  const order = [3, 1, 0, 4, 2, 5];
  order.forEach(i => {
    g.append("path").attr("d", line(curves[i])).attr("fill", "none")
      .attr("stroke", rocColors[i]).attr("stroke-width", i === 5 ? 1.5 : 1.2);
  });
  g.append("rect").attr("x", L).attr("y", T).attr("width", R - L).attr("height", B - T)
    .attr("fill", "none").attr("stroke", "#555");

  const ax = g.append("g").attr("transform", `translate(0,${B})`)
    .call(d3.axisBottom(x).tickValues([0, 5, 10, 15]).tickSize(0).tickPadding(14));
  ax.select(".domain").remove();
  ax.attr("font-family", FONT).attr("font-size", 9.5).selectAll("text").attr("fill", "#222");

  const ay = g.append("g").attr("transform", `translate(${L},0)`)
    .call(d3.axisLeft(y).tickValues([0, 0.2, 0.4, 0.6, 0.8, 1]).tickFormat(d3.format(".1f")).tickSize(0));
  ay.select(".domain").remove();
  ay.attr("font-family", FONT).attr("font-size", 9.5).selectAll("text")
    .attr("fill", "#222").attr("x", 0).attr("dy", 0).attr("text-anchor", "middle")
    .attr("transform", "translate(-14,0) rotate(-90)");

  g.append("text").attr("x", 1376).attr("y", 1386).attr("text-anchor", "middle")
    .attr("font-size", 7.5).attr("font-weight", "bold").attr("fill", "#111")
    .text("Restricted mean survival (RMS) curves");
  g.append("text").attr("x", 1376).attr("y", 1797).attr("text-anchor", "middle")
    .attr("font-size", 9).attr("fill", "#222").text("RMST (Year)");
  g.append("text").attr("transform", "translate(1147,1580) rotate(-90)")
    .attr("text-anchor", "middle").attr("font-size", 9).attr("fill", "#222").text("Probability");

  const lg = g.append("g").attr("font-size", 8.8).attr("fill", "#222");
  lg.append("text").attr("x", 1566).attr("y", 1416).attr("text-anchor", "end")
    .text("Restricted mean survival time (RMST)");
  rmstLabels.forEach((t, i) => {
    const yy = 1428.5 + i * 11.3;
    lg.append("line").attr("x1", 1422).attr("x2", 1440).attr("y1", yy).attr("y2", yy)
      .attr("stroke", rocColors[i]).attr("stroke-width", 1.2);
    lg.append("text").attr("x", 1447).attr("y", yy + 3.2).text(`${t}: ${rmstValues[i].toFixed(2)}`);
  });
})();
</script>
</body>
</html>
